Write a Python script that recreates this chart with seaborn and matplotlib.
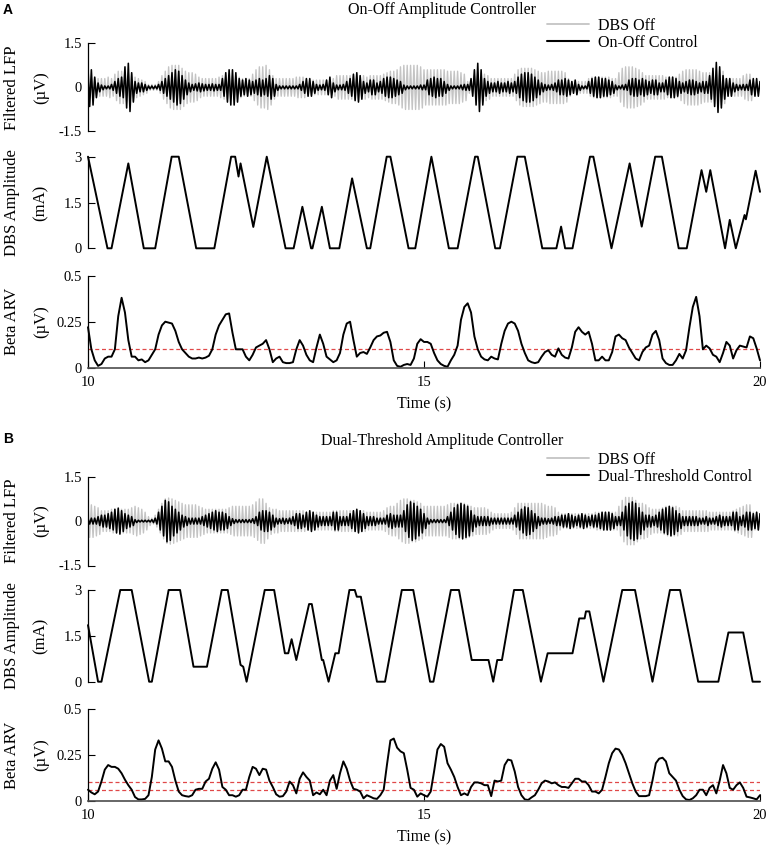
import numpy as np
import matplotlib
matplotlib.use("Agg")
import matplotlib.pyplot as plt
from matplotlib.lines import Line2D
import seaborn as sns

# sample grid (s) shared by the LFP envelopes and the Beta ARV traces
TIME = np.round(10 + 0.05 * np.arange(201), 2)

# filtered LFP envelope (uV), read every 0.05 s
LFP_A_OFF = [
    0.35, 0.3, 0.3, 0.3, 0.3, 0.3, 0.35, 0.3, 0.45, 0.55, 0.55, 0.5, 0.5, 0.45, 0.35, 0.3, 0.25, 0.2, 0.1, 0.1,
    0.1, 0.2, 0.4, 0.55, 0.7, 0.75, 0.75, 0.75, 0.65, 0.55, 0.5, 0.5, 0.45, 0.35, 0.3, 0.3, 0.3, 0.3, 0.3, 0.35,
    0.4, 0.4, 0.4, 0.4, 0.4, 0.35, 0.3, 0.3, 0.3, 0.45, 0.6, 0.7, 0.7, 0.75, 0.6, 0.4, 0.3, 0.3, 0.3, 0.3,
    0.3, 0.3, 0.35, 0.35, 0.35, 0.3, 0.25, 0.25, 0.25, 0.25, 0.25, 0.25, 0.25, 0.3, 0.4, 0.4, 0.4, 0.4, 0.4, 0.4,
    0.45, 0.4, 0.4, 0.35, 0.4, 0.4, 0.4, 0.4, 0.45, 0.5, 0.55, 0.55, 0.6, 0.7, 0.75, 0.75, 0.75, 0.75, 0.75, 0.7,
    0.6, 0.6, 0.6, 0.6, 0.6, 0.6, 0.6, 0.55, 0.55, 0.55, 0.55, 0.5, 0.45, 0.2, 0.2, 0.4, 0.5, 0.5, 0.45, 0.4,
    0.3, 0.3, 0.3, 0.3, 0.3, 0.3, 0.3, 0.45, 0.6, 0.65, 0.65, 0.65, 0.65, 0.6, 0.55, 0.5, 0.5, 0.55, 0.55, 0.55,
    0.55, 0.55, 0.5, 0.3, 0.2, 0.2, 0.2, 0.2, 0.2, 0.3, 0.35, 0.35, 0.35, 0.35, 0.35, 0.35, 0.3, 0.3, 0.5, 0.65,
    0.7, 0.7, 0.7, 0.65, 0.6, 0.5, 0.4, 0.4, 0.4, 0.4, 0.4, 0.4, 0.35, 0.35, 0.35, 0.35, 0.45, 0.55, 0.6, 0.6,
    0.6, 0.6, 0.55, 0.5, 0.5, 0.5, 0.55, 0.6, 0.6, 0.55, 0.3, 0.3, 0.3, 0.3, 0.3, 0.4, 0.45, 0.45, 0.25, 0.2,
    0.2,
]
LFP_A_ON = [
    0.65, 0.6, 0.35, 0.15, 0.08, 0.05, 0.05, 0.1, 0.2, 0.3, 0.35, 0.7, 0.82, 0.5, 0.2, 0.15, 0.15, 0.1, 0.05, 0.05,
    0.05, 0.1, 0.2, 0.3, 0.4, 0.5, 0.6, 0.55, 0.4, 0.25, 0.15, 0.1, 0.12, 0.15, 0.12, 0.1, 0.1, 0.12, 0.1, 0.1,
    0.3, 0.5, 0.6, 0.6, 0.5, 0.3, 0.25, 0.3, 0.25, 0.2, 0.25, 0.3, 0.25, 0.3, 0.4, 0.3, 0.1, 0.05, 0.05, 0.05,
    0.05, 0.05, 0.05, 0.1, 0.2, 0.3, 0.3, 0.2, 0.1, 0.08, 0.1, 0.25, 0.35, 0.15, 0.08, 0.08, 0.1, 0.2, 0.3, 0.45,
    0.5, 0.4, 0.2, 0.15, 0.25, 0.25, 0.15, 0.2, 0.3, 0.35, 0.35, 0.3, 0.25, 0.2, 0.08, 0.05, 0.05, 0.05, 0.05, 0.08,
    0.08, 0.25, 0.3, 0.35, 0.3, 0.3, 0.2, 0.1, 0.05, 0.05, 0.05, 0.08, 0.1, 0.1, 0.3, 0.6, 0.82, 0.6, 0.3, 0.2,
    0.15, 0.15, 0.2, 0.15, 0.15, 0.2, 0.15, 0.2, 0.35, 0.45, 0.5, 0.5, 0.45, 0.35, 0.25, 0.15, 0.1, 0.08, 0.1, 0.15,
    0.25, 0.25, 0.3, 0.25, 0.2, 0.25, 0.1, 0.05, 0.05, 0.2, 0.3, 0.35, 0.35, 0.3, 0.3, 0.25, 0.2, 0.08, 0.05, 0.08,
    0.1, 0.25, 0.3, 0.3, 0.25, 0.3, 0.25, 0.2, 0.25, 0.25, 0.15, 0.15, 0.25, 0.35, 0.35, 0.3, 0.2, 0.15, 0.2, 0.25,
    0.25, 0.2, 0.15, 0.2, 0.2, 0.4, 0.65, 0.85, 0.7, 0.4, 0.3, 0.3, 0.15, 0.1, 0.08, 0.1, 0.1, 0.25, 0.3, 0.3,
    0.2,
]
LFP_B_OFF = [
    0.55, 0.55, 0.5, 0.45, 0.35, 0.35, 0.35, 0.4, 0.4, 0.4, 0.4, 0.4, 0.4, 0.45, 0.5, 0.45, 0.4, 0.3, 0.15, 0.1,
    0.2, 0.4, 0.6, 0.75, 0.78, 0.75, 0.7, 0.65, 0.6, 0.55, 0.55, 0.55, 0.55, 0.5, 0.45, 0.4, 0.4, 0.4, 0.4, 0.4,
    0.4, 0.4, 0.45, 0.5, 0.5, 0.5, 0.5, 0.5, 0.5, 0.55, 0.65, 0.75, 0.75, 0.6, 0.45, 0.4, 0.4, 0.35, 0.35, 0.35,
    0.35, 0.35, 0.35, 0.35, 0.35, 0.3, 0.3, 0.3, 0.3, 0.3, 0.3, 0.3, 0.3, 0.35, 0.35, 0.35, 0.35, 0.35, 0.35, 0.35,
    0.35, 0.35, 0.35, 0.3, 0.3, 0.3, 0.3, 0.3, 0.35, 0.45, 0.5, 0.5, 0.6, 0.7, 0.75, 0.75, 0.7, 0.7, 0.65, 0.6,
    0.5, 0.5, 0.5, 0.5, 0.5, 0.5, 0.5, 0.55, 0.6, 0.6, 0.6, 0.6, 0.6, 0.55, 0.5, 0.45, 0.45, 0.45, 0.45, 0.4,
    0.3, 0.25, 0.25, 0.25, 0.25, 0.25, 0.3, 0.45, 0.6, 0.6, 0.6, 0.6, 0.6, 0.6, 0.6, 0.6, 0.55, 0.5, 0.5, 0.45,
    0.3, 0.25, 0.25, 0.25, 0.25, 0.25, 0.25, 0.25, 0.25, 0.25, 0.25, 0.3, 0.3, 0.3, 0.3, 0.3, 0.3, 0.3, 0.5, 0.7,
    0.8, 0.8, 0.8, 0.7, 0.6, 0.6, 0.55, 0.45, 0.4, 0.4, 0.4, 0.45, 0.5, 0.5, 0.5, 0.5, 0.45, 0.35, 0.35, 0.35,
    0.35, 0.35, 0.35, 0.35, 0.35, 0.3, 0.3, 0.3, 0.3, 0.3, 0.3, 0.3, 0.35, 0.4, 0.45, 0.5, 0.55, 0.55, 0.3, 0.3,
    0.25,
]
LFP_B_ON = [
    0.1, 0.1, 0.1, 0.15, 0.2, 0.2, 0.25, 0.3, 0.4, 0.44, 0.35, 0.25, 0.2, 0.15, 0.05, 0.03, 0.03, 0.03, 0.03, 0.05,
    0.1, 0.3, 0.5, 0.7, 0.65, 0.5, 0.4, 0.3, 0.2, 0.15, 0.1, 0.1, 0.1, 0.1, 0.15, 0.2, 0.25, 0.3, 0.35, 0.3,
    0.3, 0.25, 0.15, 0.08, 0.05, 0.05, 0.05, 0.05, 0.05, 0.08, 0.15, 0.3, 0.35, 0.35, 0.3, 0.2, 0.1, 0.08, 0.1, 0.08,
    0.1, 0.15, 0.25, 0.25, 0.2, 0.3, 0.35, 0.3, 0.2, 0.15, 0.15, 0.15, 0.15, 0.3, 0.3, 0.15, 0.15, 0.15, 0.25, 0.35,
    0.4, 0.35, 0.25, 0.15, 0.15, 0.15, 0.1, 0.1, 0.1, 0.2, 0.25, 0.2, 0.2, 0.2, 0.35, 0.55, 0.65, 0.6, 0.5, 0.4,
    0.25, 0.1, 0.05, 0.05, 0.05, 0.05, 0.05, 0.15, 0.3, 0.45, 0.55, 0.6, 0.55, 0.5, 0.35, 0.2, 0.15, 0.15, 0.15, 0.15,
    0.1, 0.1, 0.1, 0.1, 0.1, 0.1, 0.1, 0.2, 0.3, 0.4, 0.48, 0.45, 0.35, 0.25, 0.15, 0.1, 0.1, 0.08, 0.1, 0.15,
    0.15, 0.2, 0.2, 0.25, 0.2, 0.15, 0.2, 0.25, 0.2, 0.15, 0.2, 0.2, 0.25, 0.3, 0.3, 0.3, 0.25, 0.15, 0.15, 0.3,
    0.5, 0.6, 0.65, 0.6, 0.45, 0.3, 0.2, 0.2, 0.15, 0.2, 0.3, 0.4, 0.45, 0.5, 0.45, 0.35, 0.25, 0.15, 0.15, 0.15,
    0.15, 0.15, 0.1, 0.1, 0.15, 0.1, 0.1, 0.15, 0.2, 0.15, 0.15, 0.15, 0.3, 0.3, 0.15, 0.2, 0.3, 0.3, 0.25, 0.3,
    0.25,
]

# DBS amplitude (mA): breakpoints of the piecewise-linear stimulation trace
DBS_A_T = [10.0, 10.29, 10.35, 10.6, 10.83, 11.0, 11.245, 11.35, 11.61, 11.88, 12.13, 12.19, 12.24, 12.27,
           12.46, 12.66, 12.94, 13.06, 13.19, 13.32, 13.34, 13.48, 13.6, 13.74, 13.93, 14.15, 14.2, 14.445,
           14.5, 14.77, 14.87, 15.11, 15.37, 15.5, 15.76, 15.8, 16.06, 16.13, 16.39, 16.5, 16.76, 16.97,
           17.04, 17.1, 17.21, 17.47, 17.52, 17.79, 18.06, 18.24, 18.44, 18.54, 18.79, 18.91, 19.13, 19.2,
           19.26, 19.48, 19.55, 19.64, 19.77, 19.79, 19.935, 20.0]
DBS_A_MA = [3.0, 0, 0, 2.78, 0, 0, 3, 3, 0, 0, 3, 3, 2.35, 2.78,
            0.7, 3, 0, 0, 1.36, 0, 0, 1.36, 0, 0, 2.29, 0, 0, 3,
            3, 0, 0, 3, 0, 0, 3, 3, 0, 0, 3, 3, 0, 0,
            0.71, 0, 0, 3, 3, 0, 2.78, 0.71, 3, 3, 0, 0, 2.56, 1.85,
            2.56, 0, 0.93, 0, 1.09, 0.95, 2.54, 1.85]
DBS_B_T = [10.0, 10.15, 10.2, 10.48, 10.65, 10.91, 10.95, 11.2, 11.37, 11.57, 11.77, 11.99, 12.08, 12.27,
           12.31, 12.36, 12.63, 12.77, 12.93, 12.98, 13.03, 13.1, 13.29, 13.33, 13.48, 13.5, 13.58, 13.68,
           13.73, 13.89, 13.97, 14.0, 14.06, 14.3, 14.42, 14.67, 14.84, 15.09, 15.14, 15.4, 15.52, 15.71,
           15.96, 16.03, 16.09, 16.16, 16.34, 16.47, 16.74, 16.84, 17.21, 17.31, 17.39, 17.41, 17.46, 17.67,
           17.95, 18.14, 18.4, 18.66, 18.81, 19.08, 19.38, 19.53, 19.75, 19.89, 20.0]
DBS_B_MA = [1.85, 0, 0, 3, 3, 0, 0, 3, 3, 0.49, 0.49, 3, 3, 0.55,
            0.49, 0, 3, 3, 0.93, 0.93, 1.39, 0.71, 2.54, 2.54, 0.71, 0.71, 0, 0.93,
            0.93, 3, 3, 2.78, 2.78, 0, 0, 3, 3, 0, 0, 3, 3, 0.71,
            0.71, 0, 0.71, 0.71, 3, 3, 0, 0.93, 0.93, 2.07, 2.07, 2.3, 2.3, 0,
            3, 3, 0, 3, 3, 0, 0, 1.61, 1.61, 0, 0]

# Beta ARV (uV), every 0.05 s
ARV_A = [
    0.22, 0.1, 0.04, 0.01, 0.02, 0.05, 0.06, 0.06, 0.1, 0.28, 0.38, 0.3, 0.15, 0.06, 0.06, 0.04, 0.045, 0.03, 0.04, 0.07,
    0.1, 0.18, 0.23, 0.25, 0.245, 0.24, 0.2, 0.14, 0.1, 0.08, 0.06, 0.05, 0.05, 0.055, 0.05, 0.055, 0.065, 0.1, 0.18, 0.23,
    0.26, 0.29, 0.295, 0.19, 0.1, 0.1, 0.1, 0.06, 0.04, 0.07, 0.11, 0.12, 0.13, 0.15, 0.1, 0.03, 0.05, 0.06, 0.03, 0.025,
    0.025, 0.03, 0.1, 0.15, 0.12, 0.07, 0.04, 0.03, 0.11, 0.18, 0.13, 0.06, 0.045, 0.03, 0.04, 0.08, 0.18, 0.24, 0.25, 0.15,
    0.06, 0.08, 0.085, 0.075, 0.11, 0.15, 0.17, 0.175, 0.19, 0.195, 0.14, 0.04, 0.01,
    0.005, 0.015, 0.02, 0.015, 0.05, 0.13, 0.155, 0.14, 0.14, 0.13,
    0.08, 0.04, 0.02, 0.01, 0.005, 0.04, 0.07, 0.12, 0.26, 0.33,
    0.35, 0.3, 0.17, 0.1, 0.06, 0.045, 0.04, 0.06, 0.05, 0.045,
    0.13, 0.2, 0.24, 0.25, 0.24, 0.2, 0.13, 0.08, 0.04, 0.03,
    0.025, 0.03, 0.06, 0.085, 0.095, 0.07, 0.06, 0.105, 0.07, 0.055,
    0.05, 0.11, 0.195, 0.22, 0.195, 0.18, 0.195, 0.13, 0.04, 0.04,
    0.06, 0.04, 0.04, 0.085, 0.17, 0.18, 0.16, 0.15, 0.11, 0.08,
    0.05, 0.04, 0.085, 0.11, 0.12, 0.18, 0.2, 0.15, 0.05, 0.025,
    0.015, 0.015, 0.04, 0.075, 0.05, 0.095, 0.22, 0.33, 0.385, 0.28,
    0.1, 0.12, 0.105, 0.07, 0.06, 0.03, 0.08, 0.14, 0.12, 0.05,
    0.095, 0.12, 0.115, 0.11, 0.17, 0.16, 0.105, 0.04,
]
ARV_B = [
    0.06, 0.045, 0.035, 0.05, 0.105, 0.17, 0.195, 0.185, 0.185, 0.175, 0.15, 0.115, 0.085, 0.06, 0.02, 0.007, 0.007, 0.01, 0.03, 0.13,
    0.28, 0.33, 0.285, 0.215, 0.215, 0.185, 0.11, 0.05, 0.03, 0.025, 0.022, 0.03, 0.06, 0.065, 0.065, 0.105, 0.12, 0.175, 0.21, 0.17,
    0.075, 0.06, 0.03, 0.03, 0.022, 0.03, 0.06, 0.06, 0.13, 0.185, 0.175, 0.14, 0.175, 0.17, 0.11, 0.075, 0.035, 0.022, 0.025, 0.05,
    0.105, 0.085, 0.04, 0.12, 0.155, 0.13, 0.11, 0.03, 0.045, 0.035, 0.06, 0.03, 0.11, 0.14, 0.065, 0.15, 0.215, 0.175, 0.11, 0.065,
    0.06, 0.05, 0.013, 0.03, 0.022, 0.013, 0.01, 0.03, 0.06, 0.2, 0.33, 0.34, 0.29,
    0.27, 0.26, 0.17, 0.07, 0.06, 0.022, 0.04, 0.03, 0.022, 0.05,
    0.16, 0.28, 0.31, 0.295, 0.205, 0.17, 0.13, 0.075, 0.03, 0.04,
    0.03, 0.075, 0.1, 0.1, 0.095, 0.085, 0.085, 0.025, 0.11, 0.105,
    0.11, 0.195, 0.225, 0.22, 0.16, 0.075, 0.03, 0.007, 0.004, 0.018,
    0.03, 0.06, 0.095, 0.11, 0.105, 0.095, 0.1, 0.085, 0.075, 0.075,
    0.07, 0.095, 0.12, 0.12, 0.105, 0.105, 0.085, 0.05, 0.05, 0.04,
    0.06, 0.13, 0.205, 0.26, 0.285, 0.28, 0.25, 0.205, 0.15, 0.095,
    0.05, 0.025, 0.025, 0.025, 0.03, 0.11, 0.205, 0.23, 0.235, 0.215,
    0.15, 0.13, 0.11, 0.06, 0.025, 0.007, 0.004, 0.013, 0.03, 0.06,
    0.06, 0.03, 0.07, 0.085, 0.04, 0.11, 0.195, 0.15, 0.07, 0.06,
    0.085, 0.1, 0.07, 0.022, 0.018, 0.013, 0.007, 0.03,
]

THRESH_A = [0.1]
THRESH_B = [0.1, 0.058]

TITLES = ["On-Off Amplitude Controller", "Dual-Threshold Amplitude Controller"]
CONTROL_LABELS = ["On-Off Control", "Dual-Threshold Control"]

GRAY = "#c4c4c4"
RED = "#e04848"
W, H = 770, 847

sns.set_style("ticks", {"xtick.direction": "in", "ytick.direction": "in",
                        "axes.edgecolor": "black", "text.color": "black",
                        "axes.labelcolor": "black", "xtick.color": "black",
                        "ytick.color": "black"})
plt.rcParams["font.family"] = ["Liberation Serif", "DejaVu Serif"]
plt.rcParams["font.size"] = 11


def lfp_zigzag(env):
    """one oscillation cycle per envelope sample: +a then -a half a step later"""
    env = np.asarray(env)
    x = np.column_stack([TIME, TIME + 0.025]).ravel()
    y = np.column_stack([env, -env]).ravel()
    return x, y


def add_axes(top, bottom):
    return fig.add_axes([88 / W, 1 - bottom / H, 672 / W, (bottom - top) / H])


def style_axis(ax, ylim, yticks, yticklabels, label, unit, show_x):
    ax.set_xlim(10, 20)
    ax.set_ylim(*ylim)
    ax.set_yticks(yticks)
    ax.set_yticklabels(yticklabels)
    ax.tick_params(axis="both", length=5, width=0.8, labelsize=10.5)
    ax.tick_params(axis="y", pad=4.5)
    for s in ("top", "right"):
        ax.spines[s].set_visible(False)
    ax.spines["left"].set_linewidth(0.9)
    if show_x:
        ax.set_xticks([10, 15, 20])
        ax.set_xticklabels(["10", "15", "20"])
        ax.tick_params(axis="x", pad=6)
        ax.spines["bottom"].set_color("#4d4d4d")
        ax.spines["bottom"].set_linewidth(1.2)
        ax.set_xlabel("Time (s)", fontsize=11.5, labelpad=5)
    else:
        ax.spines["bottom"].set_visible(False)
        ax.tick_params(axis="x", bottom=False, labelbottom=False)
    ax.set_ylabel("")
    for txt, xpx in ((label, 12), (unit, 41)):
        ax.annotate(txt, xy=(xpx / W, 0.5), xycoords=("figure fraction", "axes fraction"),
                    rotation=90, ha="center", va="center", fontsize=12)


fig = plt.figure(figsize=(W / 100, H / 100), dpi=100)

panels = [
    dict(letter="A", letter_y=10, title_y=10, legend_top=18,
         boxes=[(43.3, 131.5), (156.7, 248.3), (275.7, 367.7)],
         off=LFP_A_OFF, on=LFP_A_ON, dbs_t=DBS_A_T, dbs_ma=DBS_A_MA, arv=ARV_A, thr=THRESH_A),
    dict(letter="B", letter_y=439, title_y=441, legend_top=452,
         boxes=[(476.7, 565.5), (590, 681.7), (709.3, 800.7)],
         off=LFP_B_OFF, on=LFP_B_ON, dbs_t=DBS_B_T, dbs_ma=DBS_B_MA, arv=ARV_B, thr=THRESH_B),
]

for i, p in enumerate(panels):
    ax_lfp = add_axes(*p["boxes"][0])
    ax_dbs = add_axes(*p["boxes"][1])
    ax_arv = add_axes(*p["boxes"][2])

    # filtered LFP: DBS off underneath, controlled trace on top
    x, y = lfp_zigzag(p["off"])
    sns.lineplot(x=x, y=y, ax=ax_lfp, color=GRAY, linewidth=1.0, sort=False, estimator=None)
    x, y = lfp_zigzag(p["on"])
    sns.lineplot(x=x, y=y, ax=ax_lfp, color="black", linewidth=1.15, sort=False, estimator=None)
    style_axis(ax_lfp, (-1.5, 1.5), [-1.5, 0, 1.5], ["-1.5", "0", "1.5"],
               "Filtered LFP", "(\u00b5V)", False)

    # DBS amplitude
    sns.lineplot(x=p["dbs_t"], y=p["dbs_ma"], ax=ax_dbs, color="black", linewidth=1.4,
                 sort=False, estimator=None, clip_on=False)
    style_axis(ax_dbs, (0, 3), [0, 1.5, 3], ["0", "1.5", "3"], "DBS Amplitude", "(mA)", False)

    # beta ARV with controller thresholds
    for th in p["thr"]:
        ax_arv.axhline(th, color=RED, linewidth=0.9, linestyle=(0, (3.2, 2.2)))
    sns.lineplot(x=TIME, y=p["arv"], ax=ax_arv, color="black", linewidth=1.4,
                 estimator=None, clip_on=False)
    style_axis(ax_arv, (0, 0.5), [0, 0.25, 0.5], ["0", "0.25", "0.5"], "Beta ARV", "(\u00b5V)", True)

    fig.text(3 / W, 1 - p["letter_y"] / H, p["letter"], family=["Liberation Sans", "DejaVu Sans"],
             fontweight="bold", fontsize=10, ha="left", va="center")
    fig.text(442 / W, 1 - p["title_y"] / H, TITLES[i], fontsize=11.5, ha="center", va="center")

    handles = [Line2D([], [], color=GRAY, linewidth=1.3), Line2D([], [], color="black", linewidth=1.5)]
    ax_lfp.legend(handles, ["DBS Off", CONTROL_LABELS[i]], loc="upper left",
                  bbox_to_anchor=(547 / W, 1 - p["legend_top"] / H), bbox_transform=fig.transFigure,
                  frameon=False, fontsize=11.5, handlelength=2.6, handletextpad=0.6,
                  borderpad=0, borderaxespad=0, labelspacing=0.05)

fig.savefig("out.png", dpi=100)
